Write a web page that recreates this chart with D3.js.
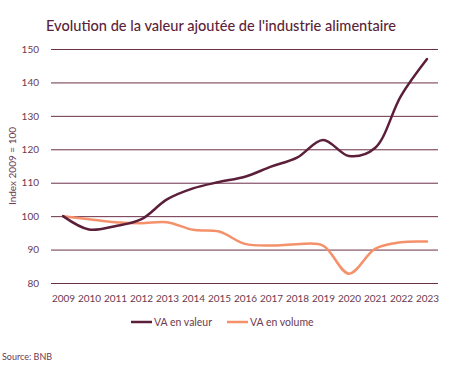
<!DOCTYPE html>
<html><head><meta charset="utf-8">
<script src="https://cdn.jsdelivr.net/npm/d3@7"></script>
<style>body{margin:0;background:#fff;}svg{display:block;font-family:Lato, "Open Sans", sans-serif;}</style>
</head><body><svg id="c" width="460" height="371"></svg>
<script>
const years = [2009,2010,2011,2012,2013,2014,2015,2016,2017,2018,2019,2020,2021,2022,2023];
const vaValeur = [100,96,97,99,105,108.3,110.2,111.8,114.8,117.5,122.8,118,120.4,136,147];
const vaVolume = [100,99.1,98.2,97.9,98.2,95.9,95.4,91.7,91.2,91.6,91.2,82.8,90.2,92.2,92.4];
const yTicks = [80,90,100,110,120,130,140,150];
const seriesNames = ["VA en valeur","VA en volume"];
const colors = ["#5c1f3a","#f4916a"];
const textCol = "#6b3a4f";

const svg = d3.select("#c");
const x = d3.scalePoint().domain(years).range([63,427]);
const y = d3.scaleLinear().domain([80,150]).range([283,49]);

svg.append("text").attr("x",46).attr("y",31).attr("fill","#5c1f3a")
  .attr("font-size",14.6).attr("font-weight",500)
  .text("Evolution de la valeur ajoutée de l'industrie alimentaire");

const yAxis = svg.append("g").attr("transform","translate(51,0)")
  .call(d3.axisLeft(y).tickValues(yTicks).tickSize(-387).tickPadding(12));
yAxis.select(".domain").remove();
yAxis.selectAll("line").attr("stroke","#6a3048").attr("stroke-width",1);
yAxis.selectAll("text").attr("fill",textCol).attr("font-size",10).attr("font-family","Lato, sans-serif");

const xAxis = svg.append("g").attr("transform","translate(0,283)")
  .call(d3.axisBottom(x).tickSize(0).tickPadding(12));
xAxis.select(".domain").remove();
xAxis.selectAll("text").attr("fill",textCol).attr("font-size",10).attr("font-family","Lato, sans-serif");

svg.append("text").attr("transform","translate(16,166) rotate(-90)")
  .attr("text-anchor","middle").attr("fill",textCol).attr("font-size",10)
  .text("Index 2009 = 100");

const line = d3.line().x((d,i)=>x(years[i])).y(d=>y(d)).curve(d3.curveCatmullRom.alpha(0.5));
[vaVolume, vaValeur].forEach((s,k)=>{
  const idx = k===0 ? 1 : 0;
  svg.append("path").attr("d",line(s)).attr("fill","none")
    .attr("stroke",colors[idx]).attr("stroke-width",2.5).attr("stroke-linecap","round");
});

const legX = [131,227];
seriesNames.forEach((n,i)=>{
  svg.append("line").attr("x1",legX[i]).attr("x2",legX[i]+21).attr("y1",322).attr("y2",322)
    .attr("stroke",colors[i]).attr("stroke-width",2.5);
  svg.append("text").attr("x",legX[i]+23).attr("y",326).attr("fill",textCol)
    .attr("font-size",10.5).text(n);
});

svg.append("text").attr("x",2).attr("y",360).attr("fill",textCol).attr("font-size",9).text("Source: BNB");
</script></body></html>
